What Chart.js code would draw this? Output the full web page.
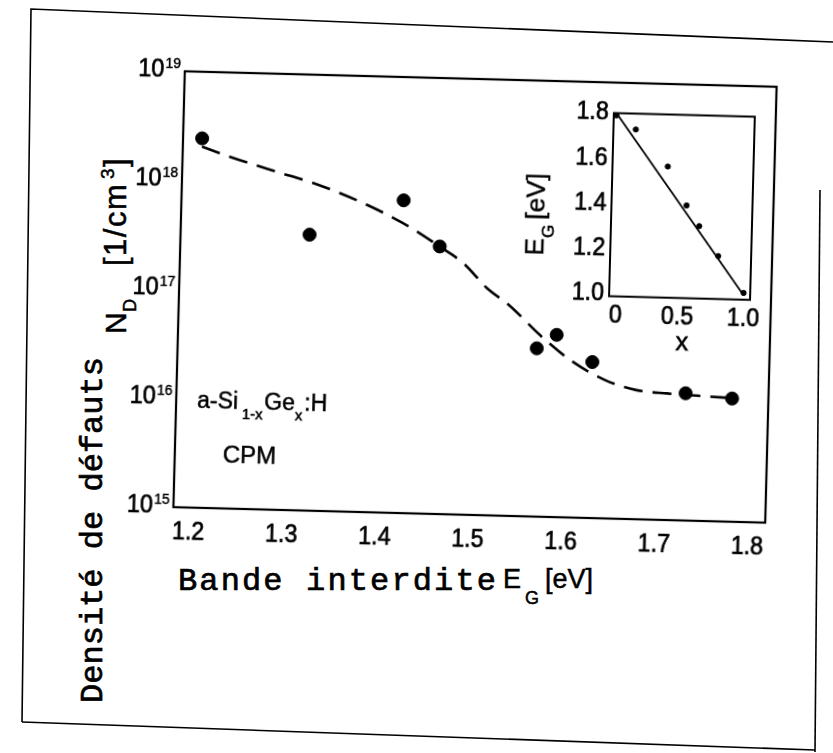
<!DOCTYPE html>
<html>
<head>
<meta charset="utf-8">
<script src="https://cdn.jsdelivr.net/npm/chart.js@4.4.1/dist/chart.umd.min.js"></script>
<style>
  html, body { margin: 0; padding: 0; background: #fff; }
  #page { position: relative; width: 833px; height: 753px; overflow: hidden; background: #fff; }
  #page svg, #page canvas { position: absolute; left: 0; top: 0; }
  /* the pasted plot sits slightly tilted on the scanned page */
  #plot { position: absolute; left: 0; top: 0; width: 833px; height: 753px;
          transform-origin: 476px 297px; transform: rotate(1.5deg); }
  text { fill: #000; stroke: #000; stroke-width: 0.5px; }
  .sans { font-family: "Liberation Sans", Arial, sans-serif; }
  .mono { font-family: "Liberation Mono", "DejaVu Sans Mono", monospace; stroke-width: 0.7px; }
</style>
</head>
<body>
<div id="page">
  <svg width="833" height="753">
    <g fill="none" stroke="#000" stroke-width="1.6">
      <polyline points="22,722 31,9 833,42"/>
      <polyline points="820,190 815,752"/>
      <polyline points="22,722 815,750"/>
    </g>
    <text class="mono" x="178" y="590" font-size="32" textLength="318" lengthAdjust="spacing">Bande interdite</text>
    <text class="sans" x="503" y="588" font-size="27">E</text>
    <text class="sans" x="525" y="604" font-size="18">G</text>
    <text class="sans" x="545" y="588" font-size="27">[eV]</text>
    <text class="mono" transform="translate(102,703) rotate(-90)" font-size="32" textLength="346" lengthAdjust="spacing">Densité de défauts</text>
    <g class="sans" transform="translate(126,334) rotate(-90)">
      <text x="0" y="0" font-size="30">N</text>
      <text x="22" y="10" font-size="18">D</text>
      <text x="68" y="0" font-size="31" letter-spacing="1.5">[1/cm</text>
      <text x="155" y="-12" font-size="19">3</text>
      <text x="167" y="0" font-size="31">]</text>
    </g>
  </svg>
  <div id="plot">
    <canvas id="main" width="833" height="753"></canvas>
    <canvas id="inset" width="833" height="753"></canvas>
    <svg width="833" height="753">
      <g class="sans">
        <text x="200" y="415" font-size="23">a-Si</text>
        <text x="245" y="425" font-size="15">1-x</text>
        <text x="267" y="415" font-size="23">Ge</text>
        <text x="298" y="425" font-size="15">x</text>
        <text x="307" y="415" font-size="23">:H</text>
        <text x="227" y="469" font-size="24">CPM</text>
        <text x="683" y="345" font-size="26" text-anchor="middle">x</text>
        <g transform="translate(542,254) rotate(-90)">
          <text x="0" y="0" font-size="26">E</text>
          <text x="18" y="10" font-size="17">G</text>
          <text x="36" y="0" font-size="26">[eV]</text>
        </g>
      </g>
    </svg>
  </div>
</div>
<script>
// main plot: defect density vs band gap
const xTicks = [1.2, 1.3, 1.4, 1.5, 1.6, 1.7, 1.8];
const yDecades = [15, 16, 17, 18, 19];
const gapEnergy = [1.204, 1.322, 1.422, 1.462, 1.569, 1.590, 1.629, 1.730, 1.780];
const defectDensity = [2.45e18, 3.4e17, 7.4e17, 2.85e17, 3.5e16, 4.7e16, 2.7e16, 1.47e16, 1.35e16];
// dashed guide line
const fitEnergy = [1.204, 1.234, 1.285, 1.325, 1.379, 1.422, 1.462, 1.488, 1.514, 1.538, 1.572, 1.605, 1.643, 1.677, 1.710, 1.756, 1.780];
const fitDensity = [2.06e18, 1.69e18, 1.26e18, 1.01e18, 6.8e17, 4.56e17, 2.84e17, 2.02e17, 1.21e17, 8.6e16, 4.64e16, 2.79e16, 1.86e16, 1.53e16, 1.45e16, 1.39e16, 1.36e16];

// inset: band gap vs Ge fraction x
const insetXTicks = [0, 0.5, 1.0];
const insetYTicks = [1.0, 1.2, 1.4, 1.6, 1.8];
const geFraction = [0, 0.15, 0.40, 0.55, 0.65, 0.80, 1.0];
const insetGap = [1.79, 1.73, 1.57, 1.40, 1.31, 1.18, 1.02];
const lineFraction = [0, 1.0];
const lineGap = [1.80, 1.01];

const SANS = '"Liberation Sans", Arial, sans-serif';

function pts(xs, ys) {
  return xs.map((x, i) => ({ x: x, y: ys[i] }));
}

// scanned labels look a bit heavy and narrow
function drawLabel(ctx, text, x, y, size, align, sx) {
  ctx.save();
  ctx.translate(x, y);
  ctx.scale(sx || 0.93, 1);
  ctx.font = size + 'px ' + SANS;
  ctx.textAlign = align;
  ctx.textBaseline = 'middle';
  ctx.lineWidth = 0.7;
  ctx.strokeStyle = '#000';
  ctx.fillText(text, 0, 0);
  ctx.strokeText(text, 0, 0);
  ctx.restore();
}

// box around the plot area
const framePlugin = {
  id: 'frame',
  afterDraw(chart) {
    const a = chart.chartArea, ctx = chart.ctx;
    ctx.save();
    ctx.strokeStyle = '#000';
    ctx.lineWidth = chart.options.frameWidth || 2;
    ctx.strokeRect(a.left, a.top, a.right - a.left, a.bottom - a.top);
    ctx.restore();
  }
};

const mainLabels = {
  id: 'mainLabels',
  afterDraw(chart) {
    const ctx = chart.ctx, a = chart.chartArea;
    const xs = chart.scales.x, ys = chart.scales.y;
    ctx.fillStyle = '#000';
    xTicks.forEach(v => drawLabel(ctx, v.toFixed(1), xs.getPixelForValue(v), a.bottom + 25, 25, 'center'));
    yDecades.forEach(e => {
      const y = ys.getPixelForValue(Math.pow(10, e));
      ctx.save();
      ctx.font = '14px ' + SANS;
      ctx.textAlign = 'right';
      ctx.textBaseline = 'alphabetic';
      ctx.lineWidth = 0.4;
      ctx.strokeStyle = '#000';
      ctx.fillText(String(e), a.left - 4, y - 3);
      ctx.strokeText(String(e), a.left - 4, y - 3);
      const w = ctx.measureText(String(e)).width;
      ctx.restore();
      drawLabel(ctx, '10', a.left - 5 - w, y - 1, 25, 'right', 0.93);
    });
  }
};

const insetLabels = {
  id: 'insetLabels',
  afterDraw(chart) {
    const ctx = chart.ctx, a = chart.chartArea;
    const xs = chart.scales.x, ys = chart.scales.y;
    ctx.fillStyle = '#000';
    insetXTicks.forEach(v => drawLabel(ctx, v === 0 ? '0' : v.toFixed(1), xs.getPixelForValue(v) + (v === 0 ? 4 : 0), a.bottom + 19, 25, 'center'));
    insetYTicks.forEach(v => drawLabel(ctx, v.toFixed(1), a.left - 5, ys.getPixelForValue(v), 25, 'right'));
  }
};

const hidden = { display: false };

new Chart(document.getElementById('main'), {
  type: 'scatter',
  data: {
    datasets: [
      {
        data: pts(fitEnergy, fitDensity),
        showLine: true,
        borderColor: '#000',
        borderWidth: 2.6,
        borderDash: [19, 10],
        cubicInterpolationMode: 'monotone',
        pointRadius: 0
      },
      {
        data: pts(gapEnergy, defectDensity),
        pointRadius: 6.5,
        backgroundColor: '#000',
        borderColor: '#000'
      }
    ]
  },
  options: {
    responsive: false,
    animation: false,
    events: [],
    frameWidth: 2.2,
    layout: { padding: { left: 179, top: 79, right: 62, bottom: 238 } },
    plugins: { legend: hidden, tooltip: { enabled: false } },
    scales: {
      x: { type: 'linear', min: 1.1835, max: 1.819, display: false },
      y: { type: 'logarithmic', min: 1e15, max: 1e19, display: false }
    }
  },
  plugins: [framePlugin, mainLabels]
});

new Chart(document.getElementById('inset'), {
  type: 'scatter',
  data: {
    datasets: [
      {
        data: pts(lineFraction, lineGap),
        showLine: true,
        borderColor: '#000',
        borderWidth: 1.8,
        pointRadius: 0
      },
      {
        data: pts(geFraction, insetGap),
        pointRadius: 2.6,
        backgroundColor: '#000',
        borderColor: '#000'
      }
    ]
  },
  options: {
    responsive: false,
    animation: false,
    events: [],
    frameWidth: 2,
    layout: { padding: { left: 609, top: 109.5, right: 83, bottom: 460.3 } },
    plugins: { legend: hidden, tooltip: { enabled: false } },
    scales: {
      x: { type: 'linear', min: -0.02, max: 1.05, display: false },
      y: { type: 'linear', min: 0.99, max: 1.8, display: false }
    }
  },
  plugins: [framePlugin, insetLabels]
});
</script>
</body>
</html>
